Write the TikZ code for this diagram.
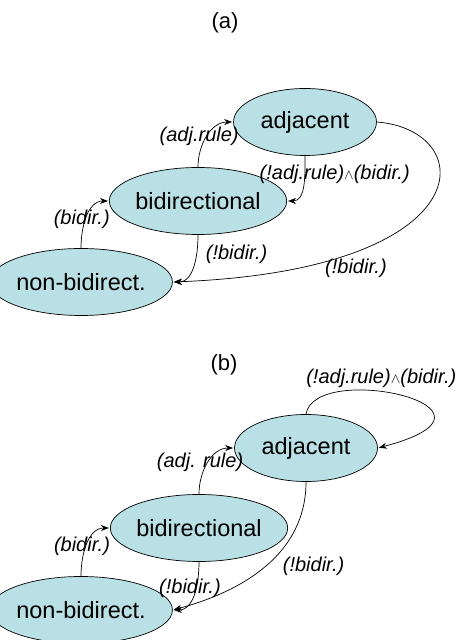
\documentclass[tikz,border=0pt]{standalone}
\usepackage{amssymb,amsmath}
\usepackage{fontspec}
\setmainfont{Liberation Sans}
\usepackage{tikz}
\usetikzlibrary{arrows.meta,shapes.geometric,positioning}

\definecolor{statefill}{RGB}{185,224,228}
\newcommand{\andop}{{\fontsize{14}{14}\selectfont$\wedge$}}

\tikzset{
	st/.style={ellipse,draw,fill=statefill,inner sep=0pt,
		minimum width=143pt,minimum height=67pt,
		font=\fontsize{23.5}{28}\selectfont},
	lbl/.style={font=\itshape\fontsize{20}{24}\selectfont,inner sep=1pt},
	ttl/.style={font=\fontsize{22}{26}\selectfont}
}

\begin{document}
\begin{tikzpicture}[x=1pt,y=1pt,>={Stealth[length=8pt,width=6pt]},shorten >=1pt,line width=0.7pt]
		\useasboundingbox (0,0) rectangle (459,640);
		% (a)
		\node[ttl] (t_a) at (225,617) {(a)};
		\node[st] (adj_a) at (305,518) {adjacent};
		\node[st] (bid_a) at (198,439) {bidirectional};
		\node[st] (non_a) at (81,358) {non-bidirect.};
		\path[->]
			(non_a.north) edge [out=90,in=180] node[lbl,pos=.45,xshift=-4pt] {(bidir.)} (bid_a.west)
			(bid_a.north) edge [out=90,in=180] node[lbl,pos=.5,xshift=-8pt] {(adj.rule)} (adj_a.west)
			(adj_a.south) edge [out=-90,in=0] node[lbl,pos=.3,xshift=30pt] {(!adj.rule)\andop(bidir.)} (bid_a.east)
			(bid_a.south) edge [out=-90,in=0] node[lbl,pos=.3,anchor=west,xshift=8pt] {(!bidir.)} (non_a.east);
		\draw[->] (adj_a.east) .. controls +(103,-8) and +(312,12) .. node[lbl,pos=.7,below=14pt,xshift=-18pt] {(!bidir.)} (non_a.east);
		% (b)
		\node[ttl] (t_b) at (224,275) {(b)};
		\node[st] (adj_b) at (306,192) {adjacent};
		\node[st] (bid_b) at (199,112) {bidirectional};
		\node[st] (non_b) at (81,30) {non-bidirect.};
		\path[->]
			(non_b.north) edge [out=90,in=180] node[lbl,pos=.45,xshift=-4pt] {(bidir.)} (bid_b.west)
			(bid_b.north) edge [out=90,in=180] node[lbl,pos=.5,xshift=-8pt] {(adj. rule)} (adj_b.west)
			(adj_b.south) edge [out=-90,in=15] node[lbl,pos=.5,anchor=west,xshift=16pt] {(!bidir.)} (non_b.east)
			(bid_b.south) edge [out=-90,in=0] node[lbl,pos=.4,xshift=-6pt] {(!bidir.)} (non_b.east);
		\draw[->] (adj_b.north) .. controls +(9,54) and +(152,40) .. node[lbl,pos=.5,above=7pt,xshift=-21pt] {(!adj.rule)\andop(bidir.)} (adj_b.east);
	\end{tikzpicture}
\end{document}
